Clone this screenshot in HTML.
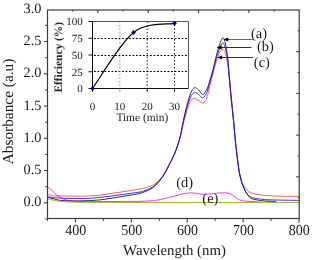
<!DOCTYPE html>
<html><head><meta charset="utf-8"><style>
html,body{margin:0;padding:0;background:#fff;width:311px;height:260px;overflow:hidden}
svg{display:block;will-change:transform}
text{font-family:"Liberation Serif",serif;text-rendering:geometricPrecision}
</style></head><body>
<svg width="311" height="260" viewBox="0 0 311 260">
<defs><clipPath id="cp"><rect x="47.5" y="10.0" width="251.7" height="208.5"/></clipPath></defs>
<g clip-path="url(#cp)" fill="none" stroke-width="0.8" stroke-linejoin="round">
<path d="M47.50 186.80 C48.25 187.42 50.50 189.13 52.00 190.50 C53.50 191.87 54.83 193.68 56.50 195.00 C58.17 196.32 60.08 197.50 62.00 198.40 C63.92 199.30 65.67 199.95 68.00 200.40 C70.33 200.85 70.67 200.92 76.00 201.10 C81.33 201.28 91.00 201.45 100.00 201.50 C109.00 201.55 121.67 201.50 130.00 201.40 C138.33 201.30 144.67 201.27 150.00 200.90 C155.33 200.53 157.83 200.02 162.00 199.20 C166.17 198.38 171.17 196.95 175.00 196.00 C178.83 195.05 182.20 194.02 185.00 193.50 C187.80 192.98 189.80 192.90 191.80 192.90 C193.80 192.90 195.13 193.27 197.00 193.50 C198.87 193.73 200.83 194.22 203.00 194.30 C205.17 194.38 207.50 194.20 210.00 194.00 C212.50 193.80 215.40 193.28 218.00 193.10 C220.60 192.92 223.60 192.80 225.60 192.90 C227.60 193.00 228.60 193.15 230.00 193.70 C231.40 194.25 232.67 195.28 234.00 196.20 C235.33 197.12 236.83 198.50 238.00 199.20 C239.17 199.90 239.97 200.10 241.00 200.40 C242.03 200.70 242.70 200.83 244.20 201.00 C245.70 201.17 248.03 201.27 250.00 201.40 C251.97 201.53 254.00 201.65 256.00 201.80 C258.00 201.95 261.00 202.22 262.00 202.30" stroke="#ff00ff"/>
<path d="M47.50 197.30 C48.25 197.47 50.42 197.88 52.00 198.30 C53.58 198.72 55.33 199.43 57.00 199.80 C58.67 200.17 59.83 200.32 62.00 200.50 C64.17 200.68 67.00 200.82 70.00 200.90 C73.00 200.98 76.67 201.05 80.00 201.00 C83.33 200.95 86.67 200.78 90.00 200.60 C93.33 200.42 96.67 200.25 100.00 199.90 C103.33 199.55 106.67 199.02 110.00 198.50 C113.33 197.98 116.67 197.35 120.00 196.80 C123.33 196.25 126.67 195.78 130.00 195.20 C133.33 194.62 137.17 194.03 140.00 193.30 C142.83 192.57 145.00 191.63 147.00 190.80 C149.00 189.97 150.50 189.30 152.00 188.30 C153.50 187.30 154.67 186.15 156.00 184.80 C157.33 183.45 158.62 181.97 160.00 180.20 C161.38 178.43 162.73 176.82 164.30 174.20 C165.87 171.58 168.15 166.95 169.40 164.50 C170.65 162.05 170.93 161.33 171.80 159.50 C172.67 157.67 173.65 155.83 174.60 153.50 C175.55 151.17 176.53 148.50 177.50 145.50 C178.47 142.50 179.45 139.50 180.40 135.50 C181.35 131.50 182.27 125.92 183.20 121.50 C184.13 117.08 185.13 112.58 186.00 109.00 C186.87 105.42 187.57 102.75 188.40 100.00 C189.23 97.25 189.97 94.55 191.00 92.50 C192.03 90.45 193.35 88.12 194.60 87.70 C195.85 87.28 197.18 88.87 198.50 90.00 C199.82 91.13 201.33 94.25 202.50 94.50 C203.67 94.75 204.58 92.83 205.50 91.50 C206.42 90.17 207.25 88.42 208.00 86.50 C208.75 84.58 209.17 82.83 210.00 80.00 C210.83 77.17 212.00 73.33 213.00 69.50 C214.00 65.67 215.08 60.58 216.00 57.00 C216.92 53.42 217.67 50.70 218.50 48.00 C219.33 45.30 220.25 42.50 221.00 40.80 C221.75 39.10 222.35 37.73 223.00 37.80 C223.65 37.87 224.32 39.17 224.90 41.20 C225.48 43.23 226.02 46.87 226.50 50.00 C226.98 53.13 227.37 55.67 227.80 60.00 C228.23 64.33 228.57 69.83 229.10 76.00 C229.63 82.17 230.28 89.67 231.00 97.00 C231.72 104.33 232.70 112.83 233.40 120.00 C234.10 127.17 234.72 135.00 235.20 140.00 C235.68 145.00 235.92 146.67 236.30 150.00 C236.68 153.33 237.05 156.50 237.50 160.00 C237.95 163.50 238.42 167.67 239.00 171.00 C239.58 174.33 240.25 177.30 241.00 180.00 C241.75 182.70 242.58 185.03 243.50 187.20 C244.42 189.37 245.33 191.20 246.50 193.00 C247.67 194.80 249.08 196.90 250.50 198.00 C251.92 199.10 253.08 199.15 255.00 199.60 C256.92 200.05 259.83 200.43 262.00 200.70 C264.17 200.97 265.67 201.08 268.00 201.20 C270.33 201.32 274.67 201.37 276.00 201.40" stroke="#000000"/>
<path d="M47.50 194.40 C48.25 194.57 50.42 195.15 52.00 195.40 C53.58 195.65 52.33 195.78 57.00 195.90 C61.67 196.02 74.50 196.10 80.00 196.10 C85.50 196.10 86.67 196.05 90.00 195.90 C93.33 195.75 96.67 195.58 100.00 195.20 C103.33 194.82 106.67 194.10 110.00 193.60 C113.33 193.10 116.67 192.68 120.00 192.20 C123.33 191.72 126.67 191.22 130.00 190.70 C133.33 190.18 137.50 189.58 140.00 189.10 C142.50 188.62 143.33 188.27 145.00 187.80 C146.67 187.33 148.33 186.97 150.00 186.30 C151.67 185.63 153.33 184.97 155.00 183.80 C156.67 182.63 158.45 181.00 160.00 179.30 C161.55 177.60 162.73 176.12 164.30 173.60 C165.87 171.08 168.12 166.60 169.40 164.20 C170.68 161.80 171.08 161.03 172.00 159.20 C172.92 157.37 173.93 155.53 174.90 153.20 C175.87 150.87 176.82 148.20 177.80 145.20 C178.78 142.20 179.80 139.15 180.80 135.20 C181.80 131.25 182.80 125.53 183.80 121.50 C184.80 117.47 185.73 114.37 186.80 111.00 C187.87 107.63 189.07 103.37 190.20 101.30 C191.33 99.23 192.55 98.95 193.60 98.60 C194.65 98.25 195.52 98.77 196.50 99.20 C197.48 99.63 198.50 100.53 199.50 101.20 C200.50 101.87 201.50 103.27 202.50 103.20 C203.50 103.13 204.62 102.25 205.50 100.80 C206.38 99.35 207.15 96.63 207.80 94.50 C208.45 92.37 208.88 90.08 209.40 88.00 C209.92 85.92 210.23 84.67 210.90 82.00 C211.57 79.33 212.48 75.50 213.40 72.00 C214.32 68.50 215.43 64.12 216.40 61.00 C217.37 57.88 218.20 55.27 219.20 53.30 C220.20 51.33 221.43 49.33 222.40 49.20 C223.37 49.07 224.27 50.87 225.00 52.50 C225.73 54.13 226.27 56.42 226.80 59.00 C227.33 61.58 227.77 65.17 228.20 68.00 C228.63 70.83 228.88 71.17 229.40 76.00 C229.92 80.83 230.60 89.67 231.30 97.00 C232.00 104.33 232.92 112.83 233.60 120.00 C234.28 127.17 234.92 135.00 235.40 140.00 C235.88 145.00 236.12 146.67 236.50 150.00 C236.88 153.33 237.27 156.67 237.70 160.00 C238.13 163.33 238.62 167.17 239.10 170.00 C239.58 172.83 240.08 174.92 240.60 177.00 C241.12 179.08 241.55 180.83 242.20 182.50 C242.85 184.17 243.47 185.50 244.50 187.00 C245.53 188.50 246.88 190.37 248.40 191.50 C249.92 192.63 251.67 193.23 253.60 193.80 C255.53 194.37 257.60 194.60 260.00 194.90 C262.40 195.20 264.67 195.38 268.00 195.60 C271.33 195.82 274.83 196.07 280.00 196.20 C285.17 196.33 295.83 196.37 299.00 196.40" stroke="#ff3333"/>
<path d="M47.50 196.70 C48.25 196.82 50.42 197.20 52.00 197.40 C53.58 197.60 54.83 197.75 57.00 197.90 C59.17 198.05 61.17 198.20 65.00 198.30 C68.83 198.40 75.83 198.50 80.00 198.50 C84.17 198.50 86.67 198.48 90.00 198.30 C93.33 198.12 96.67 197.75 100.00 197.40 C103.33 197.05 106.67 196.63 110.00 196.20 C113.33 195.77 116.67 195.27 120.00 194.80 C123.33 194.33 126.67 193.87 130.00 193.40 C133.33 192.93 137.50 192.48 140.00 192.00 C142.50 191.52 143.33 191.08 145.00 190.50 C146.67 189.92 148.33 189.37 150.00 188.50 C151.67 187.63 153.33 186.72 155.00 185.30 C156.67 183.88 158.45 181.88 160.00 180.00 C161.55 178.12 162.73 176.62 164.30 174.00 C165.87 171.38 168.13 166.75 169.40 164.30 C170.67 161.85 171.00 161.13 171.90 159.30 C172.80 157.47 173.83 155.63 174.80 153.30 C175.77 150.97 176.73 148.30 177.70 145.30 C178.67 142.30 179.63 139.30 180.60 135.30 C181.57 131.30 182.53 125.60 183.50 121.30 C184.47 117.00 185.48 112.88 186.40 109.50 C187.32 106.12 188.15 103.33 189.00 101.00 C189.85 98.67 190.57 96.95 191.50 95.50 C192.43 94.05 193.43 92.47 194.60 92.30 C195.77 92.13 197.18 93.58 198.50 94.50 C199.82 95.42 201.28 97.80 202.50 97.80 C203.72 97.80 204.83 96.13 205.80 94.50 C206.77 92.87 207.55 90.33 208.30 88.00 C209.05 85.67 209.48 83.42 210.30 80.50 C211.12 77.58 212.22 74.17 213.20 70.50 C214.18 66.83 215.27 61.83 216.20 58.50 C217.13 55.17 218.00 52.72 218.80 50.50 C219.60 48.28 220.32 46.48 221.00 45.20 C221.68 43.92 222.30 42.75 222.90 42.80 C223.50 42.85 224.05 44.05 224.60 45.50 C225.15 46.95 225.65 49.08 226.20 51.50 C226.75 53.92 227.40 55.92 227.90 60.00 C228.40 64.08 228.67 69.83 229.20 76.00 C229.73 82.17 230.38 89.67 231.10 97.00 C231.82 104.33 232.80 112.83 233.50 120.00 C234.20 127.17 234.82 135.00 235.30 140.00 C235.78 145.00 236.02 146.67 236.40 150.00 C236.78 153.33 237.15 156.50 237.60 160.00 C238.05 163.50 238.52 167.67 239.10 171.00 C239.68 174.33 240.40 177.42 241.10 180.00 C241.80 182.58 242.48 184.42 243.30 186.50 C244.12 188.58 244.80 190.75 246.00 192.50 C247.20 194.25 248.37 195.95 250.50 197.00 C252.63 198.05 255.88 198.33 258.80 198.80 C261.72 199.27 261.30 199.53 268.00 199.80 C274.70 200.07 293.83 200.30 299.00 200.40" stroke="#0000ff"/>
<path d="M47.50 198.70 C48.75 199.00 52.58 200.02 55.00 200.50 C57.42 200.98 57.83 201.30 62.00 201.60 C66.17 201.90 70.33 202.15 80.00 202.30 C89.67 202.45 101.67 202.47 120.00 202.50 C138.33 202.53 160.17 202.50 190.00 202.50 C219.83 202.50 280.83 202.50 299.00 202.50" stroke="#999900"/>
</g>
<rect x="47.5" y="10.0" width="251.7" height="208.5" fill="none" stroke="#3c3c3c" stroke-width="1.2"/>
<g stroke="#3c3c3c" stroke-width="1.1">
<line x1="45.30" y1="218.93" x2="47.50" y2="218.93"/>
<line x1="44.00" y1="202.80" x2="47.50" y2="202.80"/>
<line x1="45.30" y1="186.68" x2="47.50" y2="186.68"/>
<line x1="44.00" y1="170.55" x2="47.50" y2="170.55"/>
<line x1="45.30" y1="154.43" x2="47.50" y2="154.43"/>
<line x1="44.00" y1="138.30" x2="47.50" y2="138.30"/>
<line x1="45.30" y1="122.18" x2="47.50" y2="122.18"/>
<line x1="44.00" y1="106.05" x2="47.50" y2="106.05"/>
<line x1="45.30" y1="89.93" x2="47.50" y2="89.93"/>
<line x1="44.00" y1="73.80" x2="47.50" y2="73.80"/>
<line x1="45.30" y1="57.68" x2="47.50" y2="57.68"/>
<line x1="44.00" y1="41.55" x2="47.50" y2="41.55"/>
<line x1="45.30" y1="25.43" x2="47.50" y2="25.43"/>
<line x1="47.50" y1="218.50" x2="47.50" y2="220.80"/>
<line x1="75.44" y1="218.50" x2="75.44" y2="222.60"/>
<line x1="103.39" y1="218.50" x2="103.39" y2="220.80"/>
<line x1="131.33" y1="218.50" x2="131.33" y2="222.60"/>
<line x1="159.28" y1="218.50" x2="159.28" y2="220.80"/>
<line x1="187.22" y1="218.50" x2="187.22" y2="222.60"/>
<line x1="215.17" y1="218.50" x2="215.17" y2="220.80"/>
<line x1="243.11" y1="218.50" x2="243.11" y2="222.60"/>
<line x1="271.06" y1="218.50" x2="271.06" y2="220.80"/>
<line x1="299.00" y1="218.50" x2="299.00" y2="222.60"/>
<line x1="72.67" y1="10.00" x2="72.67" y2="11.50"/>
<line x1="97.84" y1="10.00" x2="97.84" y2="13.00"/>
<line x1="123.01" y1="10.00" x2="123.01" y2="11.50"/>
<line x1="148.18" y1="10.00" x2="148.18" y2="13.00"/>
<line x1="173.35" y1="10.00" x2="173.35" y2="11.50"/>
<line x1="198.52" y1="10.00" x2="198.52" y2="13.00"/>
<line x1="223.69" y1="10.00" x2="223.69" y2="11.50"/>
<line x1="248.86" y1="10.00" x2="248.86" y2="13.00"/>
<line x1="274.03" y1="10.00" x2="274.03" y2="11.50"/>
<line x1="297.70" y1="30.85" x2="299.20" y2="30.85"/>
<line x1="296.20" y1="51.70" x2="299.20" y2="51.70"/>
<line x1="297.70" y1="72.55" x2="299.20" y2="72.55"/>
<line x1="296.20" y1="93.40" x2="299.20" y2="93.40"/>
<line x1="297.70" y1="114.25" x2="299.20" y2="114.25"/>
<line x1="296.20" y1="135.10" x2="299.20" y2="135.10"/>
<line x1="297.70" y1="155.95" x2="299.20" y2="155.95"/>
<line x1="296.20" y1="176.80" x2="299.20" y2="176.80"/>
<line x1="297.70" y1="197.65" x2="299.20" y2="197.65"/>
</g>
<g font-family="Liberation Serif" font-size="14.3" fill="#1a1a1a" text-anchor="end">
<text x="41.4" y="206.40">0.0</text>
<text x="41.4" y="174.15">0.5</text>
<text x="41.4" y="141.90">1.0</text>
<text x="41.4" y="109.65">1.5</text>
<text x="41.4" y="77.40">2.0</text>
<text x="41.4" y="45.15">2.5</text>
<text x="41.4" y="12.90">3.0</text>
</g>
<g font-family="Liberation Serif" font-size="14" fill="#1a1a1a" text-anchor="middle">
<text transform="translate(75.74,235.3) scale(1,1.09)" x="0" y="0">400</text>
<text transform="translate(131.63,235.3) scale(1,1.09)" x="0" y="0">500</text>
<text transform="translate(187.52,235.3) scale(1,1.09)" x="0" y="0">600</text>
<text transform="translate(243.41,235.3) scale(1,1.09)" x="0" y="0">700</text>
<text transform="translate(299.30,235.3) scale(1,1.09)" x="0" y="0">800</text>
</g>
<text x="174.5" y="255.0" font-family="Liberation Serif" font-size="14.8" fill="#1a1a1a" text-anchor="middle">Wavelength (nm)</text>
<text transform="translate(12.7,111.5) rotate(-90)" font-family="Liberation Serif" font-size="15.35" fill="#1a1a1a" text-anchor="middle">Absorbance (a.u)</text>
<line x1="226.30" y1="39.50" x2="253.00" y2="39.50" stroke="#666" stroke-width="1"/>
<polygon points="223.30,39.50 228.30,37.50 228.30,41.50" fill="#000"/>
<line x1="219.60" y1="47.50" x2="251.50" y2="47.50" stroke="#333" stroke-width="1"/>
<polygon points="216.60,47.50 221.60,45.50 221.60,49.50" fill="#000"/>
<line x1="220.20" y1="57.50" x2="253.00" y2="57.50" stroke="#333" stroke-width="1"/>
<polygon points="217.20,57.50 222.20,55.50 222.20,59.50" fill="#000"/>
<g font-family="Liberation Serif" font-size="14.5" fill="#1a1a1a">
<text x="251" y="37.5">(a)</text>
<text x="257" y="51">(b)</text>
<text x="253.8" y="66.5">(c)</text>
<text x="176.2" y="186.5">(d)</text>
<text x="202.3" y="203.3">(e)</text>
</g>
<rect x="92.5" y="21.5" width="96.0" height="67.0" fill="#fff" stroke="none"/>
<g stroke="#000" stroke-width="1" stroke-dasharray="1.8,1.7">
<line x1="94.00" y1="71.50" x2="188.50" y2="71.50"/>
<line x1="94.00" y1="55.50" x2="188.50" y2="55.50"/>
<line x1="94.00" y1="38.50" x2="188.50" y2="38.50"/>
</g>
<g stroke="#000" stroke-width="1" stroke-dasharray="1.3,2.2">
<line x1="119.85" y1="21.50" x2="119.85" y2="88.50" stroke="#888"/>
<line x1="147.20" y1="21.50" x2="147.20" y2="88.50"/>
<line x1="174.55" y1="21.50" x2="174.55" y2="88.50"/>
</g>
<path d="M92.50 21.50 V88.50 H188.50" fill="none" stroke="#111" stroke-width="1"/>
<path d="M92.50 21.50 H188.50 V88.50" fill="none" stroke="#555" stroke-width="1"/>
<g stroke="#111" stroke-width="1">
<line x1="88.50" y1="88.50" x2="92.50" y2="88.50"/>
<line x1="88.50" y1="71.75" x2="92.50" y2="71.75"/>
<line x1="88.50" y1="55.00" x2="92.50" y2="55.00"/>
<line x1="88.50" y1="38.25" x2="92.50" y2="38.25"/>
<line x1="88.50" y1="21.50" x2="92.50" y2="21.50"/>
<line x1="92.50" y1="88.50" x2="92.50" y2="91.80"/>
<line x1="119.85" y1="88.50" x2="119.85" y2="91.80" stroke="#999"/>
<line x1="147.20" y1="88.50" x2="147.20" y2="91.80"/>
<line x1="174.55" y1="88.50" x2="174.55" y2="91.80"/>
</g>
<path d="M92.50 88.50 C99.34 79.16 119.85 43.35 133.53 32.49 C147.20 21.62 167.71 24.84 174.55 23.31" fill="none" stroke="#000" stroke-width="1.2"/>
<polygon points="92.50,85.90 94.80,88.50 92.50,91.10 90.20,88.50" fill="#000080"/>
<polygon points="133.53,29.89 135.83,32.49 133.53,35.09 131.22,32.49" fill="#000080"/>
<polygon points="174.55,20.71 176.85,23.31 174.55,25.91 172.25,23.31" fill="#000080"/>
<g font-family="Liberation Serif" font-size="11" fill="#1a1a1a" text-anchor="end">
<text x="82.7" y="92.30">0</text>
<text x="82.7" y="75.55">25</text>
<text x="82.7" y="58.80">50</text>
<text x="82.7" y="42.05">75</text>
<text x="82.7" y="25.30">100</text>
</g>
<g font-family="Liberation Serif" font-size="11" fill="#1a1a1a" text-anchor="middle">
<text x="92.50" y="109.5">0</text>
<text x="119.85" y="109.5">10</text>
<text x="147.20" y="109.5">20</text>
<text x="174.55" y="109.5">30</text>
</g>
<text x="142.3" y="120.5" font-family="Liberation Serif" font-size="11.4" fill="#1a1a1a" text-anchor="middle">Time (min)</text>
<text transform="translate(62.4,57.3) rotate(-90)" font-family="Liberation Serif" font-size="11.4" font-weight="bold" fill="#2a2a2a" text-anchor="middle">Efficiency (%)</text>
</svg>
</body></html>
